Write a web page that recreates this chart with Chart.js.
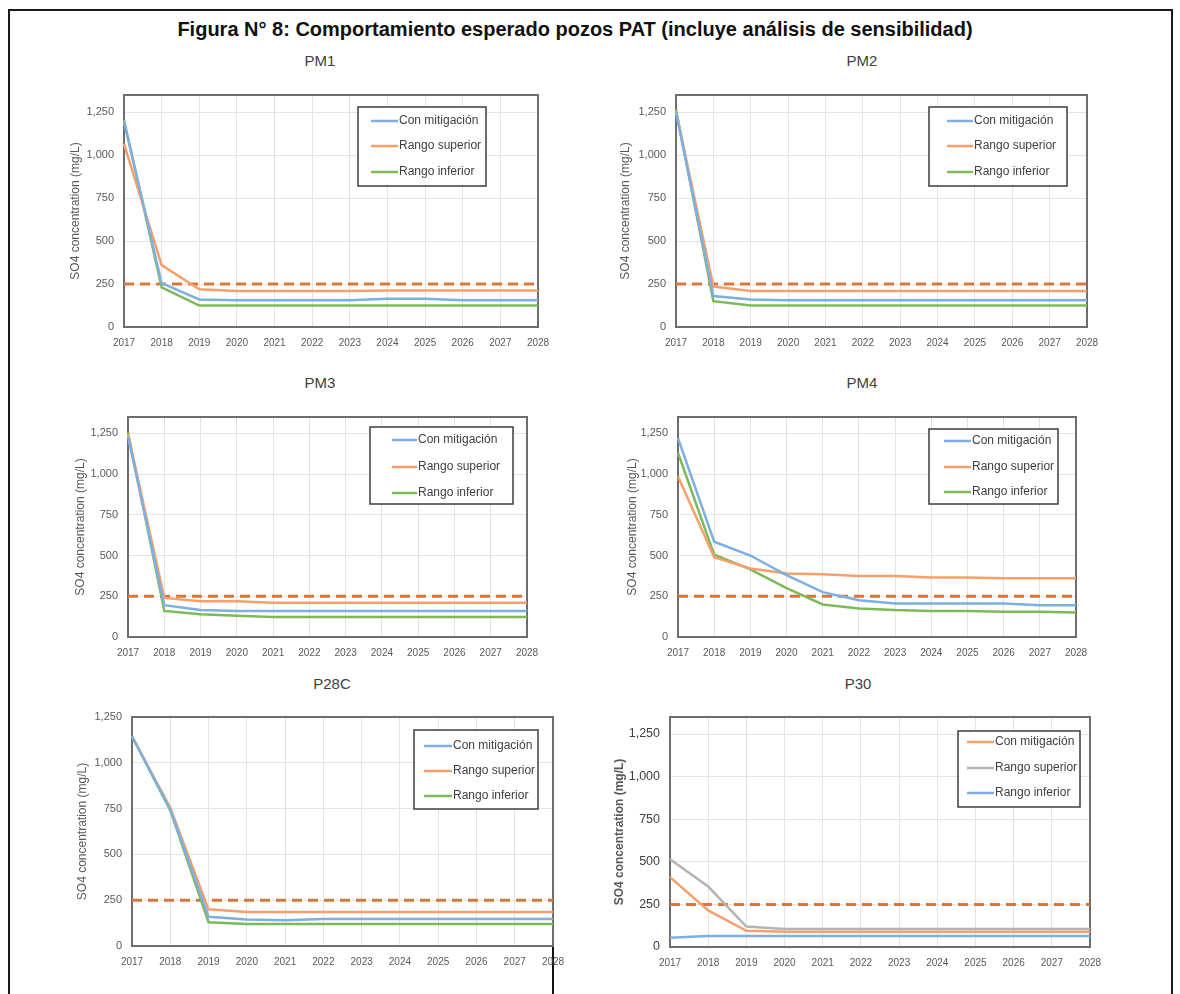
<!DOCTYPE html>
<html>
<head>
<meta charset="utf-8">
<title>Figura N° 8</title>
<script src="https://cdn.jsdelivr.net/npm/chart.js@4.4.1/dist/chart.umd.min.js"></script>
<style>
  body { margin: 0; background: #fff; width: 1180px; height: 994px; overflow: hidden; position: relative; }
  #marco { position: absolute; left: 8px; top: 9px; width: 1161px; height: 1000px; border: 2px solid #1a1a1a; border-bottom: none; }
  #titulo { position: absolute; left: 0; width: 1150px; top: 18px; text-align: center; color: #111;
            font: bold 20px 'Liberation Sans Narrow', 'Liberation Sans', sans-serif; }
  .subtitulo { position: absolute; transform: translate(-50%, -50%); color: #404040; white-space: nowrap;
               font: 15px 'Liberation Sans Narrow', 'Liberation Sans', sans-serif; }
  canvas { position: absolute; }
  #corte { position: absolute; left: 552px; top: 748px; width: 2px; height: 250px; background: #111; }
</style>
</head>
<body>
<div id="marco"></div>
<div id="titulo">Figura N° 8: Comportamiento esperado pozos PAT (incluye análisis de sensibilidad)</div>
<div id="corte"></div>

<script>
// Años del eje X
const anios = ['2017', '2018', '2019', '2020', '2021', '2022', '2023', '2024', '2025', '2026', '2027', '2028'];
const ticksY = [0, 250, 500, 750, 1000, 1250];
// Norma SO4 (línea segmentada)
const limite = [250, 250, 250, 250, 250, 250, 250, 250, 250, 250, 250, 250];

// PM1
const pm1ConMitigacion = [1195, 255, 160, 155, 155, 155, 155, 165, 165, 155, 155, 155];
const pm1RangoSuperior = [1065, 360, 220, 210, 210, 210, 210, 212, 212, 212, 212, 212];
const pm1RangoInferior = [1205, 230, 125, 125, 125, 125, 125, 125, 125, 125, 125, 125];

// PM2
const pm2ConMitigacion = [1250, 180, 160, 155, 155, 155, 155, 155, 155, 155, 155, 155];
const pm2RangoSuperior = [1255, 235, 210, 210, 210, 210, 210, 210, 210, 210, 210, 210];
const pm2RangoInferior = [1265, 150, 125, 125, 125, 125, 125, 125, 125, 125, 125, 125];

// PM3
const pm3ConMitigacion = [1230, 195, 165, 160, 160, 160, 160, 160, 160, 160, 160, 160];
const pm3RangoSuperior = [1245, 240, 220, 220, 210, 210, 210, 210, 210, 210, 210, 210];
const pm3RangoInferior = [1255, 160, 140, 130, 122, 122, 122, 122, 122, 122, 122, 122];

// PM4
const pm4ConMitigacion = [1220, 585, 500, 380, 275, 225, 205, 205, 205, 205, 195, 195];
const pm4RangoSuperior = [985, 490, 420, 390, 385, 375, 375, 365, 365, 360, 360, 360];
const pm4RangoInferior = [1130, 505, 415, 300, 200, 175, 165, 160, 160, 155, 155, 150];

// P28C
const p28cConMitigacion = [1145, 745, 160, 145, 140, 148, 148, 148, 148, 148, 148, 148];
const p28cRangoSuperior = [1145, 755, 200, 185, 185, 185, 185, 185, 185, 185, 185, 185];
const p28cRangoInferior = [1145, 740, 130, 120, 120, 120, 120, 120, 120, 120, 120, 120];

// P30
const p30ConMitigacion = [410, 215, 95, 90, 90, 90, 90, 90, 90, 90, 90, 90];
const p30RangoSuperior = [515, 355, 120, 105, 105, 105, 105, 105, 105, 105, 105, 105];
const p30RangoInferior = [55, 65, 65, 65, 65, 65, 65, 65, 65, 65, 65, 65];

const AZUL = '#7DAFE0', NARANJO = '#F5A06C', VERDE = '#7CBA58', GRIS = '#B4B4B4', LIMITE = '#DB7638';
const FUENTE = "'Liberation Sans', Arial, sans-serif";

// Posiciones en la página (px): área de gráfico [izq, sup, der, inf], caja de leyenda, etc.
const paneles = [
  { titulo: 'PM1', tx: 320, ty: 60, plot: [124, 95, 538, 327], ymax: 1350, yTituloX: 75,
    leyenda: { caja: [358, 107, 486, 186], linea: [371, 398], filas: [121, 146, 172] },
    series: [['Con mitigación', pm1ConMitigacion, AZUL], ['Rango superior', pm1RangoSuperior, NARANJO], ['Rango inferior', pm1RangoInferior, VERDE]] },
  { titulo: 'PM2', tx: 862, ty: 60, plot: [676, 95, 1087, 327], ymax: 1350, yTituloX: 625,
    leyenda: { caja: [929, 107, 1067, 186], linea: [947, 973], filas: [121, 146, 172] },
    series: [['Con mitigación', pm2ConMitigacion, AZUL], ['Rango superior', pm2RangoSuperior, NARANJO], ['Rango inferior', pm2RangoInferior, VERDE]] },
  { titulo: 'PM3', tx: 320, ty: 382, plot: [128, 417, 527, 637], ymax: 1350, yTituloX: 80,
    leyenda: { caja: [370, 427, 513, 504], linea: [392, 417], filas: [440, 467, 493] },
    series: [['Con mitigación', pm3ConMitigacion, AZUL], ['Rango superior', pm3RangoSuperior, NARANJO], ['Rango inferior', pm3RangoInferior, VERDE]] },
  { titulo: 'PM4', tx: 862, ty: 382, plot: [678, 417, 1076, 637], ymax: 1350, yTituloX: 632,
    leyenda: { caja: [929, 429, 1058, 504], linea: [944, 971], filas: [441, 467, 492] },
    series: [['Con mitigación', pm4ConMitigacion, AZUL], ['Rango superior', pm4RangoSuperior, NARANJO], ['Rango inferior', pm4RangoInferior, VERDE]] },
  { titulo: 'P28C', tx: 332, ty: 683, plot: [132, 717, 553, 946], ymax: 1250, yTituloX: 82,
    leyenda: { caja: [414, 730, 538, 809], linea: [424, 452], filas: [746, 771, 796] },
    series: [['Con mitigación', p28cConMitigacion, AZUL], ['Rango superior', p28cRangoSuperior, NARANJO], ['Rango inferior', p28cRangoInferior, VERDE]] },
  { titulo: 'P30', tx: 858, ty: 683, plot: [670, 717, 1090, 947], ymax: 1350, yTituloX: 619, negrita: true,
    leyenda: { caja: [958, 731, 1080, 807], linea: [967, 994], filas: [742, 768, 793] },
    series: [['Con mitigación', p30ConMitigacion, NARANJO], ['Rango superior', p30RangoSuperior, GRIS], ['Rango inferior', p30RangoInferior, AZUL]] },
];

// Borde del área de trazado (cuatro lados)
const bordePlot = {
  id: 'bordePlot',
  beforeDatasetsDraw(chart) {
    const { ctx, chartArea: a } = chart;
    ctx.save();
    ctx.strokeStyle = '#6E6E6E';
    ctx.lineWidth = 2;
    ctx.strokeRect(a.left, a.top, a.right - a.left, a.bottom - a.top);
    ctx.restore();
  }
};

// Leyenda con caja, dibujada dentro del área de trazado
const leyendaCaja = {
  id: 'leyendaCaja',
  afterDraw(chart, args, opts) {
    const { ctx } = chart;
    const [x1, y1, x2, y2] = opts.caja.map((v, i) => v - (i % 2 ? opts.oy : opts.ox));
    ctx.save();
    ctx.fillStyle = '#fff';
    ctx.fillRect(x1, y1, x2 - x1, y2 - y1);
    ctx.strokeStyle = '#3C3C3C';
    ctx.lineWidth = 1.5;
    ctx.strokeRect(x1, y1, x2 - x1, y2 - y1);
    const items = chart.data.datasets.filter(d => !d.esLimite);
    ctx.font = '12px ' + FUENTE;
    ctx.textBaseline = 'middle';
    items.forEach((d, i) => {
      const y = opts.filas[i] - opts.oy;
      ctx.strokeStyle = d.borderColor;
      ctx.lineWidth = 2.5;
      ctx.beginPath();
      ctx.moveTo(opts.linea[0] - opts.ox, y);
      ctx.lineTo(opts.linea[1] - opts.ox, y);
      ctx.stroke();
      ctx.fillStyle = '#404040';
      ctx.fillText(d.label, opts.linea[1] - opts.ox + 1, y);
    });
    ctx.restore();
  }
};

function crearPanel(p) {
  const [pl, pt, pr, pb] = p.plot;
  const padTop = 8, padRight = 16, altoEjeX = 26;
  const izq = Math.round(p.yTituloX - 12 * 1.2 / 2);
  const sup = pt - padTop;
  const ancho = pr + padRight - izq;
  const alto = pb + altoEjeX - sup;

  const t = document.createElement('div');
  t.className = 'subtitulo';
  t.style.left = p.tx + 'px';
  t.style.top = p.ty + 'px';
  t.textContent = p.titulo;
  document.body.appendChild(t);

  const canvas = document.createElement('canvas');
  canvas.width = ancho;
  canvas.height = alto;
  canvas.style.left = izq + 'px';
  canvas.style.top = sup + 'px';
  canvas.style.width = ancho + 'px';
  canvas.style.height = alto + 'px';
  document.body.appendChild(canvas);

  const datasets = p.series.map(([label, data, color]) => ({
    label, data, borderColor: color, backgroundColor: color,
    borderWidth: 2.5, pointRadius: 0, tension: 0, fill: false,
  }));
  datasets.push({
    label: 'Límite', data: limite, esLimite: true, borderColor: LIMITE,
    borderWidth: 3, borderDash: [10, 6], pointRadius: 0, tension: 0, fill: false,
  });

  new Chart(canvas.getContext('2d'), {
    type: 'line',
    data: { labels: anios, datasets },
    plugins: [bordePlot, leyendaCaja],
    options: {
      responsive: false,
      animation: false,
      layout: { padding: { left: 0, top: padTop, right: padRight, bottom: 0 } },
      plugins: {
        legend: { display: false },
        tooltip: { enabled: false },
        leyendaCaja: { ...p.leyenda, ox: izq, oy: sup },
      },
      scales: {
        x: {
          type: 'category',
          offset: false,
          grid: { color: '#E4E4E4', drawTicks: false },
          border: { display: false },
          ticks: { autoSkip: false, maxRotation: 0, padding: 10, color: '#595959',
                   font: { family: FUENTE, size: 10 } },
          afterFit: s => { s.height = altoEjeX; s.paddingLeft = 0; s.paddingRight = 0; },
        },
        y: {
          min: 0,
          max: p.ymax,
          grid: { color: '#E4E4E4', drawTicks: false },
          border: { display: false },
          afterBuildTicks: s => { s.ticks = ticksY.map(v => ({ value: v })); },
          ticks: { padding: 10, color: p.negrita ? '#404040' : '#595959',
                   font: { family: FUENTE, size: p.negrita ? 12.5 : 11 },
                   callback: v => v.toLocaleString('en-US') },
          title: { display: true, text: 'SO4 concentration (mg/L)', color: '#595959',
                   padding: { top: 0, bottom: 0 },
                   font: { family: FUENTE, size: 12, weight: p.negrita ? 'bold' : 'normal' } },
          afterFit: s => { s.width = pl - izq; s.paddingTop = 0; s.paddingBottom = 0; },
        },
      },
    },
  });
}

paneles.forEach(crearPanel);
</script>
</body>
</html>
